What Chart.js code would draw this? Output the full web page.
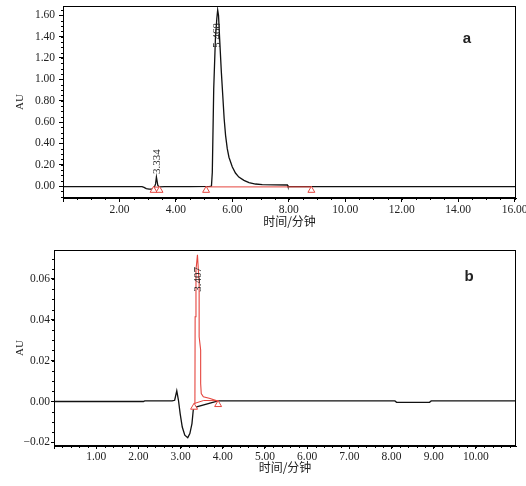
<!DOCTYPE html>
<html>
<head>
<meta charset="utf-8">
<script src="https://cdn.jsdelivr.net/npm/chart.js@4.4.1/dist/chart.umd.min.js"></script>
<style>
  html, body { margin: 0; padding: 0; background: #fff; overflow: hidden; }
  canvas { display: block; }
</style>
</head>
<body>
<canvas id="chart-a" width="526" height="236"></canvas>
<canvas id="chart-b" width="526" height="250"></canvas>
<script>
// panel a : time (min) / absorbance (AU)
const timeA = [0, 1.0, 2.0, 2.8, 2.87, 2.95, 3.05, 3.15, 3.22, 3.28, 3.31, 3.36, 3.42, 3.6, 4.5, 5.2, 5.26, 5.29, 5.34, 5.40, 5.45, 5.48, 5.51, 5.55, 5.61, 5.66, 5.71, 5.76, 5.82, 5.88, 6.0, 6.11, 6.23, 6.41, 6.59, 6.82, 7.06, 7.5, 7.95, 7.97, 10, 12, 14, 16.05];
const auA = [-0.005, -0.005, -0.005, -0.005, -0.012, -0.024, -0.028, -0.028, -0.022, 0.02, 0.085, 0.005, -0.008, -0.005, -0.005, -0.004, 0.0, 0.13, 0.91, 1.38, 1.57, 1.65, 1.6, 1.38, 1.07, 0.85, 0.63, 0.475, 0.35, 0.27, 0.178, 0.122, 0.084, 0.053, 0.032, 0.019, 0.013, 0.011, 0.01, -0.005, -0.005, -0.005, -0.005, -0.005];
const peakTimesA = [3.334, 5.468];
const intTimesA = [[3.21, 3.42], [5.07, 8.80]];
const intAuA = [[-0.01, -0.01], [-0.008, -0.008]];
const markTimesA = [3.21, 3.42, 5.07, 8.80];
const markAuA = [-0.04, -0.04, -0.04, -0.04];

// panel b
const timeB = [0, 1.0, 2.12, 2.15, 2.8, 2.86, 2.91, 2.95, 2.99, 3.04, 3.10, 3.17, 3.22, 3.27, 3.30, 3.32, 3.89, 8.08, 8.12, 8.90, 8.94, 10.95];
const auB = [0, 0, 0, 0.0003, 0.0003, 0.0006, 0.0052, 0.0006, -0.0059, -0.0125, -0.0165, -0.0177, -0.0157, -0.0108, -0.0043, -0.003, 0.0003, 0.0003, -0.0004, -0.0004, 0.0003, 0.0003];
const peakTimeB = [3.32, 3.34, 3.345, 3.365, 3.40, 3.44, 3.44, 3.476, 3.476, 3.49, 3.54, 3.70, 3.86, 3.89];
const peakAuB = [-0.001, 0.0, 0.0415, 0.0644, 0.0718, 0.058, 0.0317, 0.0252, 0.0088, 0.0039, 0.0023, 0.0015, 0.0003, 0.0];
const peakTimesB = [3.407];
const intTimesB = [3.32, 3.55, 3.89];
const intAuB = [-0.001, 0.0005, 0.0004];
const markTimesB = [3.32, 3.89];
const markAuB = [-0.0028, -0.0015];

const RED = '#e5463f';
const INK = '#111';

Chart.defaults.font.family = "'Liberation Serif', 'Times New Roman', serif";
Chart.defaults.color = '#222';

function xy(ts, vs) { return ts.map((t, i) => ({x: t, y: vs[i]})); }

function apexOf(ts, vs, t) {
  let m = -Infinity;
  ts.forEach((v, i) => { if (Math.abs(v - t) < 0.15) m = Math.max(m, vs[i]); });
  return m;
}

function fmt(v) { return v < 0 ? '\u2212' + (-v).toFixed(2) : v.toFixed(2); }

// frame, minor ticks, peak labels and panel letter
const decor = {
  id: 'decor',
  afterDraw(chart, args, o) {
    const {ctx, chartArea: a, scales: {x, y}} = chart;
    ctx.save();
    ctx.strokeStyle = '#000';
    ctx.lineWidth = 1;
    ctx.strokeRect(Math.round(a.left) + 0.5, Math.round(a.top) + 0.5, Math.round(a.width) - 1, Math.round(a.height) - 1);
    ctx.beginPath();
    for (let v = Math.ceil(x.min / o.minorX) * o.minorX; v <= x.max + 1e-9; v += o.minorX) {
      const px = Math.round(x.getPixelForValue(v)) + 0.5;
      ctx.moveTo(px, a.bottom); ctx.lineTo(px, a.bottom + 2);
    }
    for (let v = Math.ceil(y.min / o.minorY) * o.minorY; v <= y.max + 1e-9; v += o.minorY) {
      const py = Math.round(y.getPixelForValue(v)) + 0.5;
      ctx.moveTo(a.left, py); ctx.lineTo(a.left - 2, py);
    }
    ctx.stroke();

    ctx.font = "11px 'Liberation Serif'";
    ctx.fillStyle = '#222';
    o.peaks.forEach(p => {
      const px = x.getPixelForValue(p.t);
      const w = ctx.measureText(p.text).width;
      let yb = y.getPixelForValue(p.apex) - 3;
      if (yb - w < a.top + 17) yb = a.top + 17 + w;
      ctx.save();
      ctx.translate(px, yb);
      ctx.rotate(-Math.PI / 2);
      ctx.textAlign = 'left';
      ctx.textBaseline = 'middle';
      ctx.fillText(p.text, 0, 0);
      ctx.restore();
    });

    ctx.font = "bold 15px 'Liberation Sans'";
    ctx.fillStyle = '#222';
    ctx.textAlign = 'center';
    ctx.textBaseline = 'middle';
    ctx.fillText(o.letter, a.right - o.letterDx, a.top + o.letterDy);
    ctx.restore();
  }
};

function scales(o) {
  return {
    x: {
      type: 'linear', min: o.xMin, max: o.xMax,
      border: {color: '#000', width: 1},
      grid: {drawOnChartArea: false, color: '#000', tickLength: o.tick},
      ticks: {stepSize: o.xStep, includeBounds: false, maxRotation: 0, autoSkip: false, padding: 1, font: {size: 11.5},
        callback: v => v === 0 ? '' : v.toFixed(2)},
      title: {display: true, text: '时间/分钟', color: '#222',
        font: {family: "'Noto Sans CJK SC'", size: 12}, padding: {top: 0, bottom: o.xTitlePad}},
      afterFit: s => { s.height = o.xHeight; s.paddingLeft = 0; s.paddingRight = 0; }
    },
    y: {
      type: 'linear', min: o.yMin, max: o.yMax,
      border: {color: '#000', width: 1},
      grid: {drawOnChartArea: false, color: '#000', tickLength: o.tick},
      ticks: {stepSize: o.yStep, includeBounds: false, autoSkip: false, padding: o.yPad, font: {size: 11.5},
        callback: v => fmt(v)},
      title: {display: true, text: 'AU', color: '#222', font: {size: 11}, padding: {top: 14, bottom: 0}},
      afterFit: s => { s.width = o.yWidth; s.paddingTop = 0; s.paddingBottom = 0; }
    }
  };
}

function lineSet(data, color, width) {
  return {data: data, borderColor: color, borderWidth: width, pointRadius: 0, tension: 0, fill: false};
}

function markSet(data) {
  return {data: data, showLine: false, pointStyle: 'triangle', pointRadius: 4,
    pointBorderColor: RED, pointBackgroundColor: '#fff', pointBorderWidth: 1};
}

const common = {
  responsive: false,
  animation: false,
  plugins: {legend: {display: false}, tooltip: {enabled: false}}
};

// chart a
new Chart(document.getElementById('chart-a'), {
  type: 'line',
  data: {
    datasets: [
      markSet(xy(markTimesA, markAuA)),
      lineSet(xy(intTimesA[0], intAuA[0]), RED, 1),
      lineSet(xy(intTimesA[1], intAuA[1]), RED, 1),
      lineSet(xy(timeA, auA), INK, 1.3)
    ]
  },
  options: {
    ...common,
    layout: {padding: {top: 6, right: 10, bottom: 0, left: 0}},
    scales: scales({xMin: 0, xMax: 16.05, xStep: 2, yMin: -0.112, yMax: 1.687, yStep: 0.2,
      tick: 4, yPad: 4, yWidth: 63, xHeight: 38, xTitlePad: 7}),
    plugins: {
      ...common.plugins,
      decor: {minorX: 0.5, minorY: 0.05, letter: 'a', letterDx: 49, letterDy: 33,
        peaks: peakTimesA.map(t => ({t: t, text: t.toFixed(3), apex: apexOf(timeA, auA, t)}))}
    }
  },
  plugins: [decor]
});

// chart b
new Chart(document.getElementById('chart-b'), {
  type: 'line',
  data: {
    datasets: [
      markSet(xy(markTimesB, markAuB)),
      lineSet(xy(intTimesB, intAuB), RED, 1),
      lineSet(xy(peakTimeB, peakAuB), RED, 1.1),
      lineSet(xy(timeB, auB), INK, 1.3)
    ]
  },
  options: {
    ...common,
    layout: {padding: {top: 14, right: 10, bottom: 0, left: 0}},
    scales: scales({xMin: 0, xMax: 10.95, xStep: 1, yMin: -0.0218, yMax: 0.0742, yStep: 0.02,
      tick: 3, yPad: 1, yWidth: 54, xHeight: 40, xTitlePad: 11}),
    plugins: {
      ...common.plugins,
      decor: {minorX: 0.2, minorY: 0.005, letter: 'b', letterDx: 47, letterDy: 27,
        peaks: peakTimesB.map(t => ({t: t, text: t.toFixed(3), apex: apexOf(peakTimeB, peakAuB, t)}))}
    }
  },
  plugins: [decor]
});
</script>
</body>
</html>
